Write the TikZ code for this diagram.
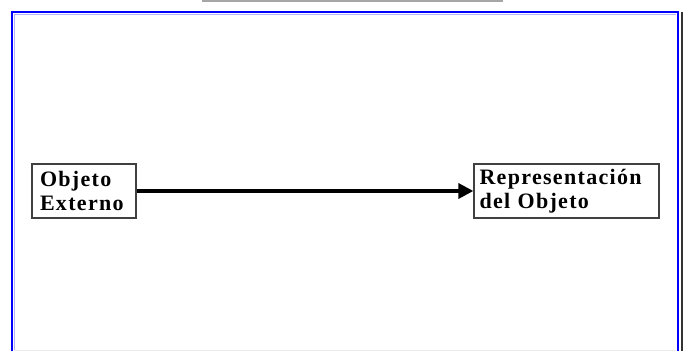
\documentclass[tikz,border=0pt]{standalone}
\usepackage{fontspec}
\setmainfont{Liberation Serif}[LetterSpace=6]
\usetikzlibrary{arrows.meta}
\begin{document}
\begin{tikzpicture}[x=1pt,y=-1pt,>={Triangle[length=15pt,width=15pt]},
	bloque/.style={draw=black!75,line width=1.3pt,rectangle,minimum height=54pt,align=left,
		font=\fontsize{22}{24}\selectfont\bfseries,inner ysep=1pt},
	marco/.style={draw=blue,line width=2.5pt}]

	\useasboundingbox (0,0) rectangle (683,351);

	% marco
	\draw[gray!70,line width=2pt] (202,0.5) -- (503,0.5);
	\draw[marco] (12,351) -- (12,12) -- (678,12) -- (678,351);
	\draw[blue!30,line width=1pt] (14.5,351) -- (14.5,14.5) -- (676,14.5);
	\draw[black!80,line width=2pt] (681.5,12) -- (681.5,351);
	\draw[gray!15,line width=1pt] (14,350.5) -- (676,350.5);

	% bloques
	\node[bloque,text width=88pt,inner xsep=8pt] (objeto) at (84,191) {Objeto\\Externo};
	\node[bloque,text width=174pt,inner xsep=5.5pt] (repr) at (566.5,191) {Representación\\del Objeto};

	% flecha
	\draw[->,line width=3.5pt] (objeto) -- (repr);

\end{tikzpicture}
\end{document}
